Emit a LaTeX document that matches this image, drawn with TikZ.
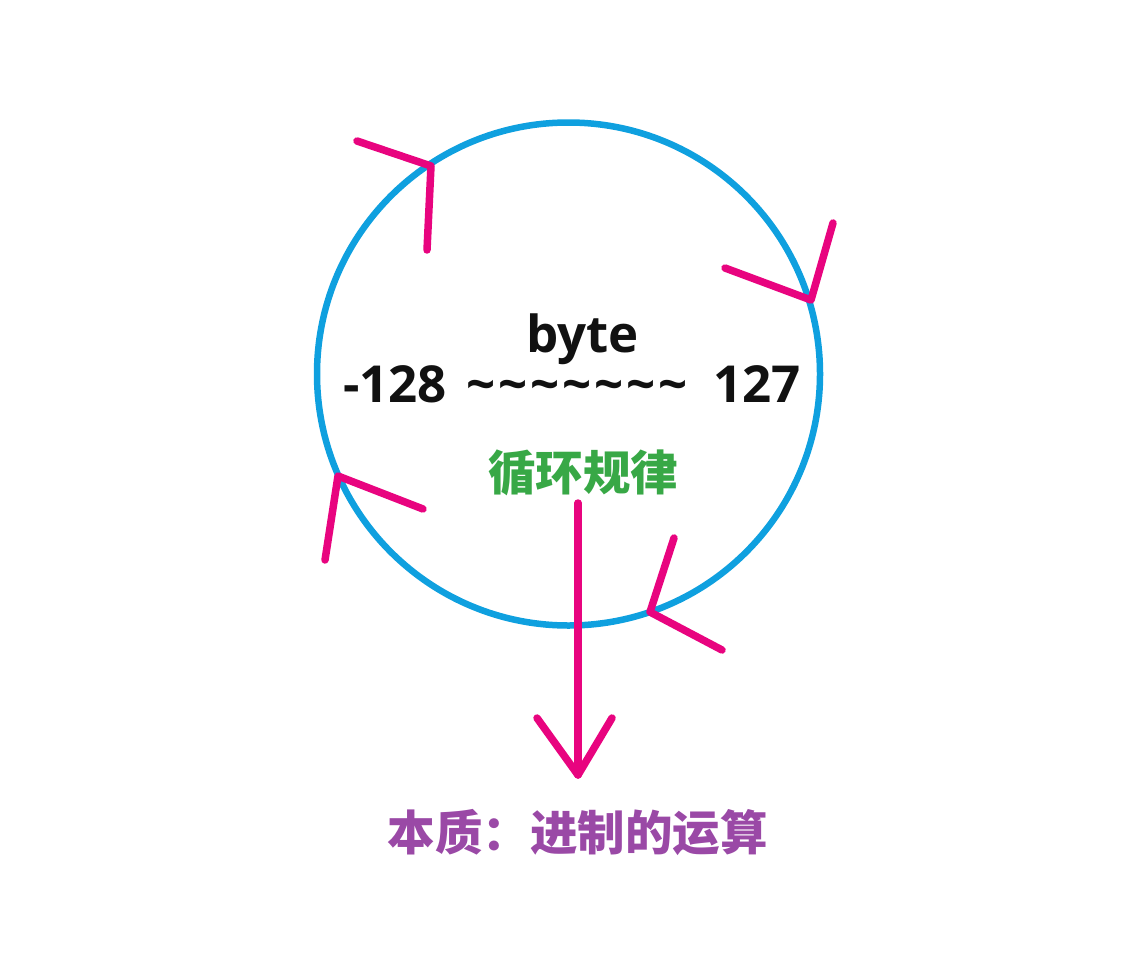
\documentclass[tikz,border=0pt]{standalone}
\usepackage{fontspec}
\usepackage{tikz}
\newfontfamily\cjk{Noto Sans CJK SC}
\newfontfamily\latinface{Open Sans}
\definecolor{RingBlue}{HTML}{0FA0DF}
\definecolor{ArrowPink}{HTML}{E8047F}
\definecolor{RuleGreen}{HTML}{38A846}
\definecolor{CoreViolet}{HTML}{9A49A6}
\definecolor{RangeInk}{HTML}{111111}
\newcommand{\wave}{\textasciitilde\hspace{3pt}}

\begin{document}
\begin{tikzpicture}[x=1pt,y=-1pt,
    ring/.style={draw=RingBlue,line width=6.5pt},
    swirl/.style={draw=ArrowPink,line width=7.5pt,line cap=round,line join=round},
    rangetext/.style={text=RangeInk,font=\latinface\bfseries\fontsize{51}{60}\selectfont,inner sep=0pt},
    hanzi/.style={font=\cjk\bfseries\fontsize{47.5}{56}\selectfont,inner sep=0pt}]
  \useasboundingbox (0,0) rectangle (1145,961);
  \node[circle,ring,minimum size=503pt,inner sep=0pt] (cycle) at (568.5,374) {};
  % range inside the ring
  \node[rangetext,anchor=base] (typename) at (582.5,352) {byte};
  \node[rangetext,anchor=base west] (low) at (343,402) {-128};
  \node[rangetext,anchor=base] (waves) at (577,402) {\wave\wave\wave\wave\wave\wave\textasciitilde};
  \node[rangetext,anchor=base east] (high) at (801,402) {127};
  \node[hanzi,text=RuleGreen] (rule) at (583,473) {循环规律};
  \node[hanzi,text=CoreViolet] (essence) at (577.5,833) {本质：进制的运算};
  % arrows round the ring
  \draw[swirl] (357,141) -- (431,166) -- (427,250);
  \draw[swirl] (725,268) -- (811,300) -- (833,223);
  \draw[swirl] (423,509) -- (338,476) -- (325,560);
  \draw[swirl] (674,538) -- (650,612) -- (722,650);
  % down to the essence
  \coordinate (drop) at (578,503);
  \coordinate (tip) at (578,775);
  \draw[swirl] (drop) -- (tip);
  \draw[swirl] (537,718) -- (tip) -- (612,718);
\end{tikzpicture}
\end{document}
